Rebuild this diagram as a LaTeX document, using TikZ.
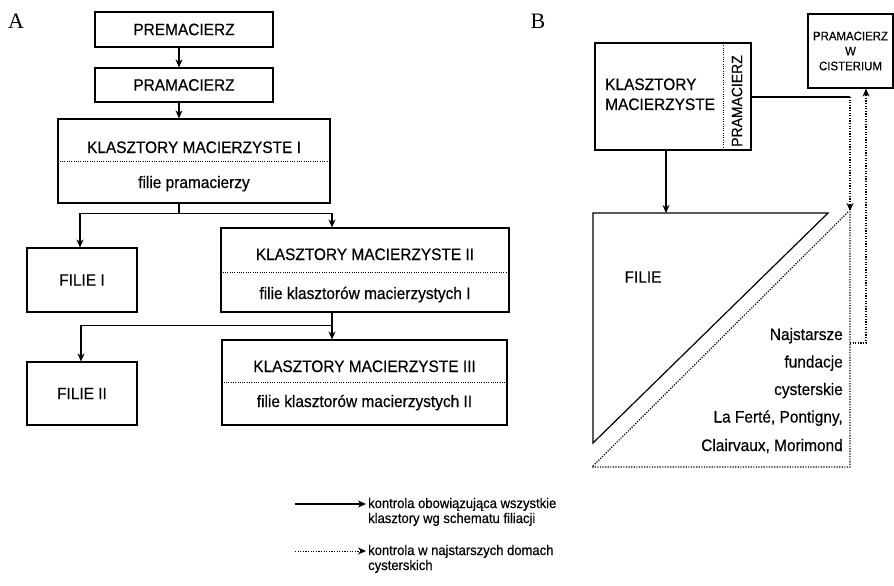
\documentclass[tikz,border=0pt]{standalone}
\usepackage{fontspec}
\setmainfont{Liberation Sans}[FakeStretch=0.93,FakeBold=0.4]
\newfontfamily\serifA{Liberation Serif}
\usetikzlibrary{arrows.meta}
\begin{document}
\begin{tikzpicture}[x=1pt,y=-1pt,
  box/.style={draw, line width=1.2pt, inner sep=0pt, font=\fontsize{16.6}{19}\selectfont},
  txt/.style={inner sep=0pt, font=\fontsize{16.6}{19}\selectfont},
  lgd/.style={inner sep=0pt, font=\fontsize{14}{16}\selectfont},
  tip/.style={-{Stealth[length=8pt,width=7pt,inset=2.5pt]}},
  arr/.style={tip, line width=1.1pt},
  dots/.style={line width=1.2pt, dash pattern=on 1.2pt off 1.4pt},
  divider/.style={line width=1pt, dash pattern=on 1pt off 1.3pt}]
\useasboundingbox (0,0) rectangle (894,586);
\fill[white] (0,0) rectangle (894,586);

% ---------- Part A ----------
\node[inner sep=0pt, anchor=base, font=\serifA\fontsize{22}{24}\selectfont] (labA) at (16,29) {A};

\node[box, minimum width=178pt, minimum height=35pt] (pre) at (184,29.5) {PREMACIERZ};
\node[box, minimum width=178pt, minimum height=34pt] (pra) at (184,85) {PRAMACIERZ};

\node[box, minimum width=272pt, minimum height=84pt] (km1) at (194,161) {};
\draw[divider] (km1.west) -- (km1.east);
\node[txt, anchor=base] (km1a) at (194,153) {KLASZTORY MACIERZYSTE I};
\node[txt, anchor=base] (km1b) at (194,188) {filie pramacierzy};

\node[box, minimum width=110pt, minimum height=64pt] (fil1) at (82,280) {FILIE I};

\node[box, minimum width=288pt, minimum height=84pt] (km2) at (365,270) {};
\draw[divider] (km2.west |- 0,272) -- (km2.east |- 0,272);
\node[txt, anchor=base] (km2a) at (365,260) {KLASZTORY MACIERZYSTE II};
\node[txt, anchor=base] (km2b) at (365,299) {filie klasztorów macierzystych I};

\node[box, minimum width=110pt, minimum height=63pt] (fil2) at (82,393.5) {FILIE II};

\node[box, minimum width=285pt, minimum height=85pt] (km3) at (364.5,382.5) {};
\draw[divider] (km3.west |- 0,382) -- (km3.east |- 0,382);
\node[txt, anchor=base] (km3a) at (364.5,372) {KLASZTORY MACIERZYSTE III};
\node[txt, anchor=base] (km3b) at (364.5,407) {filie klasztorów macierzystych II};

\draw[arr] ([xshift=-5pt]pre.south) -- ([xshift=-5pt]pra.north);
\draw[arr] ([xshift=-5pt]pra.south) -- ([xshift=-15pt]km1.north);
\draw[line width=1.1pt] ([xshift=-15pt]km1.south) -- ++(0,10) coordinate (j1);
\draw[arr] (j1) -| ([xshift=-2pt]fil1.north);
\draw[arr] (j1) -| ([xshift=-33pt]km2.north);
\draw[line width=1.1pt] ([xshift=-33pt]km2.south) -- ++(0,13) coordinate (j2);
\draw[arr] (j2) -| ([xshift=-1pt]fil2.north);
\draw[arr] (j2) -- ([xshift=-32.5pt]km3.north);

% ---------- Part B ----------
\node[inner sep=0pt, anchor=base, font=\serifA\fontsize{22}{24}\selectfont] (labB) at (538,29) {B};

\node[box, minimum width=156pt, minimum height=107pt] (kmB) at (673,96.5) {};
\draw[divider] (723,43) -- (723,150);
\node[txt, anchor=base west] (kmBt1) at (605,90) {KLASZTORY};
\node[txt, anchor=base west] (kmBt2) at (605,110) {MACIERZYSTE};
\node[inner sep=0pt, rotate=90, font=\fontsize{15}{17}\selectfont] (pramB) at (737,101) {PRAMACIERZ};

\node[box, minimum width=85pt, minimum height=74pt, align=center,
      font=\fontsize{12.3}{15}\selectfont] (cist) at (850.5,51) {PRAMACIERZ\\W\\CISTERIUM};

% triangle FILIE
\coordinate (t1) at (593,213);
\coordinate (t2) at (828,213);
\coordinate (t3) at (593,443);
\draw[line width=1.2pt, line join=miter] (t1) -- (t2) -- (t3) -- cycle;
\node[txt] (filB) at (643,277) {FILIE};
\draw[arr] ([xshift=-7pt]kmB.south) -- ([xshift=-7pt]kmB.south |- t1);

% dotted triangle region
\coordinate (d1) at (848,212);
\coordinate (d2) at (592,467);
\coordinate (d3) at (850,467);
\coordinate (d4) at (850,343);
\coordinate (d5) at (866,343);
\coordinate (ctl) at (850,97);
\coordinate (tp) at (850,211);
\draw[line width=1.1pt] (kmB.east |- ctl) -- (ctl);
\draw[dots, tip] (ctl) -- (tp);
\draw[dots] (d1) -- (d2) -- (d3) -- (tp);
\draw[dots, tip] (d4) -- (d5) -- (d5 |- cist.south);

\node[txt, anchor=base east] (n1) at (843,340) {Najstarsze};
\node[txt, anchor=base east] (n2) at (843,367.5) {fundacje};
\node[txt, anchor=base east] (n3) at (843,395) {cysterskie};
\node[txt, anchor=base east] (n4) at (843,422.5) {La Ferté, Pontigny,};
\node[txt, anchor=base east] (n5) at (843,451) {Clairvaux, Morimond};

% ---------- Legend ----------
\coordinate (l1a) at (295,504);
\coordinate (l1b) at (366,504);
\coordinate (l2a) at (295,551);
\coordinate (l2b) at (366,551);
\draw[arr] (l1a) -- (l1b);
\draw[dots, line width=1pt, tip] (l2a) -- (l2b);
\node[lgd, anchor=base west] (lg1) at (368,508) {kontrola obowiązująca wszystkie};
\node[lgd, anchor=base west] (lg2) at (368,523) {klasztory wg schematu filiacji};
\node[lgd, anchor=base west] (lg3) at (368,555) {kontrola w najstarszych domach};
\node[lgd, anchor=base west] (lg4) at (368,570) {cysterskich};
\end{tikzpicture}
\end{document}
